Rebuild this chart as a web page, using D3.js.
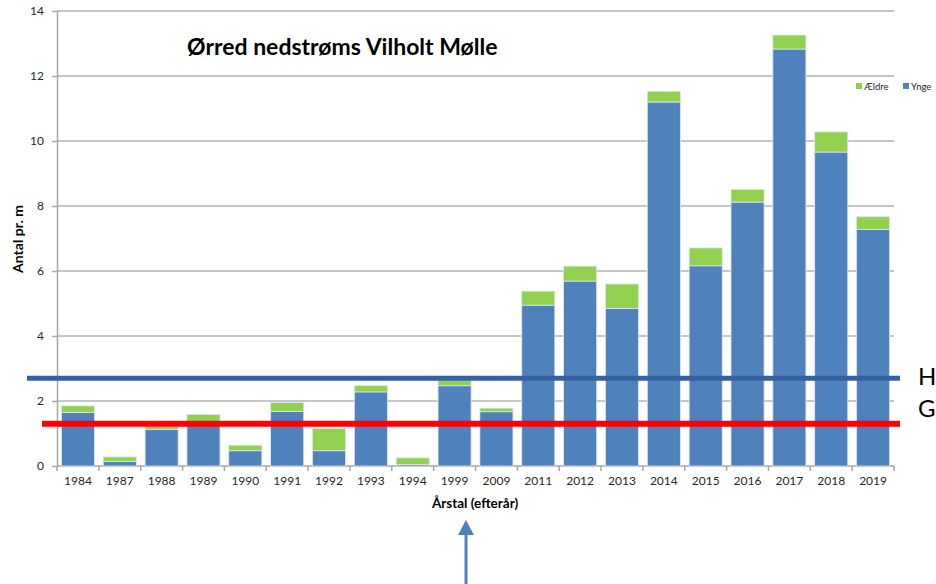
<!DOCTYPE html>
<html>
<head>
<meta charset="utf-8">
<title>Ørred nedstrøms Vilholt Mølle</title>
<script src="https://d3js.org/d3.v7.min.js"></script>
<style>
body { margin: 0; background: #fff; }
text { font-family: Lato, "Open Sans", sans-serif; }
.grid line { stroke: #b3b3b3; stroke-width: 1.5px; }
.axis path, .axis line { stroke: #a6a6a6; stroke-width: 1.5px; }
.axis text { font-size: 12px; fill: #262626; }
</style>
</head>
<body>
<script>
// data
var years = ["1984","1987","1988","1989","1990","1991","1992","1993","1994","1999",
             "2009","2011","2012","2013","2014","2015","2016","2017","2018","2019"];
var ynge  = [1.65, 0.14, 1.13, 1.30, 0.47, 1.68, 0.47, 2.28, 0.05, 2.47,
             1.67, 4.95, 5.69, 4.85, 11.2, 6.16, 8.12, 12.83, 9.66, 7.28];
var aeldre = [0.20, 0.14, 0.09, 0.29, 0.17, 0.27, 0.69, 0.19, 0.20, 0.18,
              0.11, 0.43, 0.46, 0.75, 0.33, 0.55, 0.39, 0.43, 0.62, 0.39];
var yTicks = [0, 2, 4, 6, 8, 10, 12, 14];
var refLines = [{label: "H", value: 2.7, color: "#3561a0"},
                {label: "G", value: 1.3, color: "#ff0000"}];

var width = 936, height = 584;
var x0 = 57, x1 = 894, yTop = 11, yBot = 466;

var svg = d3.select("body").append("svg")
  .attr("width", width)
  .attr("height", height);

var x = d3.scaleBand().domain(years).range([x0, x1]).paddingInner(0.21).paddingOuter(0.105);
var y = d3.scaleLinear().domain([0, 14]).range([yBot, yTop]);

// gridlines
svg.append("g").attr("class", "grid")
  .selectAll("line").data(yTicks.slice(1)).enter().append("line")
  .attr("x1", x0).attr("x2", x1)
  .attr("y1", function(d) { return y(d); })
  .attr("y2", function(d) { return y(d); });

// y axis
var yAxis = svg.append("g").attr("class", "axis")
  .attr("transform", "translate(" + x0 + ",0)")
  .call(d3.axisLeft(y).tickValues(yTicks).tickSize(5).tickSizeOuter(0).tickPadding(8));

// x axis with ticks at band edges
var xAxis = svg.append("g").attr("class", "axis")
  .attr("transform", "translate(0," + yBot + ")")
  .call(d3.axisBottom(x).tickSize(0).tickPadding(10));
xAxis.select(".domain").attr("d", "M" + x0 + ",0H" + x1);
var step = x.step();
xAxis.selectAll(".edge").data(d3.range(years.length + 1)).enter().append("line")
  .attr("class", "edge")
  .attr("x1", function(i) { return x0 + i * step; })
  .attr("x2", function(i) { return x0 + i * step; })
  .attr("y1", 0).attr("y2", 5);

// stacked bars
var rows = years.map(function(yr, i) { return {year: yr, ynge: ynge[i], aeldre: aeldre[i]}; });
var stack = d3.stack().keys(["ynge", "aeldre"])(rows);
var colors = {ynge: "#4f81bd", aeldre: "#92d050"};

svg.selectAll(".series").data(stack).enter().append("g")
  .attr("fill", function(s) { return colors[s.key]; })
  .selectAll("rect").data(function(s) { return s; }).enter().append("rect")
  .attr("x", function(d) { return x(d.data.year); })
  .attr("width", x.bandwidth())
  .attr("y", function(d) { return y(d[1]); })
  .attr("height", function(d) { return y(d[0]) - y(d[1]); })
  .attr("stroke", "#dde6f2")
  .attr("stroke-width", 0.8);

// title
svg.append("text")
  .attr("x", 187).attr("y", 55)
  .attr("font-size", 23).attr("font-weight", "bold").attr("fill", "#000")
  .text("Ørred nedstrøms Vilholt Mølle");

// axis titles
svg.append("text")
  .attr("transform", "translate(23,239) rotate(-90)")
  .attr("text-anchor", "middle")
  .attr("font-size", 14).attr("font-weight", "bold")
  .text("Antal pr. m");
svg.append("text")
  .attr("x", 475).attr("y", 508)
  .attr("text-anchor", "middle")
  .attr("font-size", 13.5).attr("font-weight", "bold")
  .text("Årstal (efterår)");

// legend
var legend = [{key: "aeldre", name: "Ældre", x: 856}, {key: "ynge", name: "Ynge", x: 903}];
var lg = svg.selectAll(".legend").data(legend).enter().append("g")
  .attr("transform", function(d) { return "translate(" + d.x + ",86)"; });
lg.append("rect").attr("x", 0).attr("y", -3).attr("width", 6).attr("height", 6)
  .attr("fill", function(d) { return colors[d.key]; });
lg.append("text").attr("x", 8).attr("y", 3.5)
  .attr("font-size", 9.5).attr("fill", "#262626")
  .text(function(d) { return d.name; });

// reference lines H and G
svg.append("line")
  .attr("x1", 27).attr("x2", 900)
  .attr("y1", y(refLines[0].value)).attr("y2", y(refLines[0].value))
  .attr("stroke", refLines[0].color).attr("stroke-width", 5);
svg.append("line")
  .attr("x1", 42).attr("x2", 900)
  .attr("y1", y(refLines[1].value)).attr("y2", y(refLines[1].value))
  .attr("stroke", refLines[1].color).attr("stroke-width", 6);
svg.append("text").attr("x", 918).attr("y", 385)
  .attr("font-size", 24).attr("fill", "#000").text(refLines[0].label);
svg.append("text").attr("x", 918).attr("y", 417)
  .attr("font-size", 24).attr("fill", "#000").text(refLines[1].label);

// arrow under 1999
var ax = 466;
svg.append("line").attr("x1", ax).attr("x2", ax).attr("y1", 532).attr("y2", 584)
  .attr("stroke", "#4f81bd").attr("stroke-width", 3);
svg.append("path")
  .attr("d", "M" + ax + ",520L" + (ax + 8) + ",535L" + (ax - 8) + ",535Z")
  .attr("fill", "#4f81bd");
</script>
</body>
</html>
